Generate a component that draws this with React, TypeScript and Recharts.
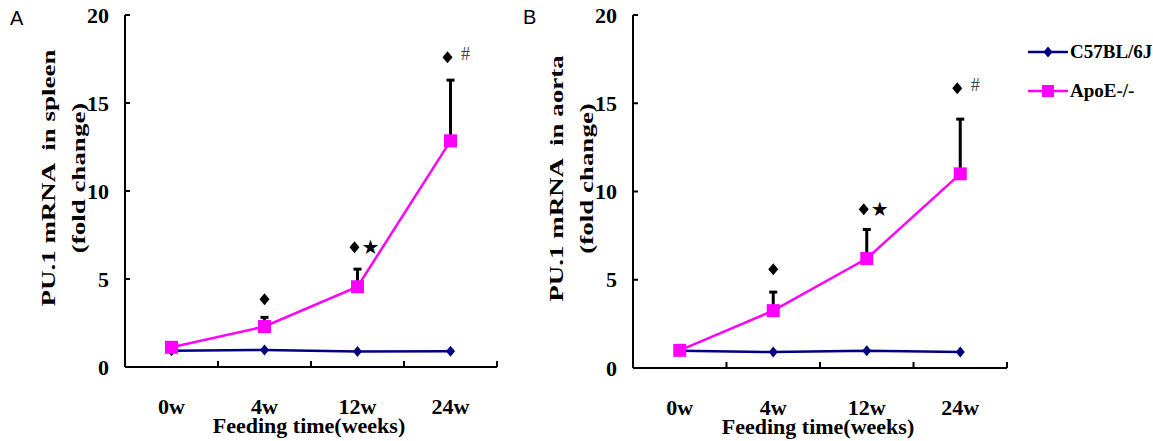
import React from 'react';
import { LineChart, Line, XAxis, YAxis, ErrorBar, LabelList, Legend } from 'recharts';

const weeks = ['0w', '4w', '12w', '24w'];

// panel A: spleen
const spleenC57 = [0.93, 0.97, 0.88, 0.9];
const spleenApoE = [1.12, 2.3, 4.56, 12.85];
const spleenApoESd = [0, 0.52, 1.0, 3.45];
const spleenSigY = [null, 3.85, 6.8, 17.6];

// panel B: aorta
const aortaC57 = [0.98, 0.9, 0.98, 0.9];
const aortaApoE = [1.0, 3.25, 6.2, 11.0];
const aortaApoESd = [0, 1.05, 1.65, 3.1];
const aortaSigY = [null, 5.6, 9.0, 15.85];

const sigMarks = ['', '◆', '◆★', '◆#'];
const yTicks = [0, 5, 10, 15, 20];
const xTicks = [0, 0.5, 1, 1.5, 2, 2.5, 3, 3.5, 4];
const legendOrder = ['c57', 'apoe'];

const serif = '"Liberation Serif", "Times New Roman", serif';
const PINK = '#FF00FF';
const NAVY = '#000080';

function buildRows(c57: number[], apoe: number[], sd: number[], sigY: (number | null)[]) {
  return weeks.map((w, i) => ({
    x: i + 0.5,
    week: w,
    c57: c57[i],
    apoe: apoe[i],
    sd: [0, sd[i]],
    sigY: sigY[i],
    sig: sigMarks[i],
  }));
}

const spleenRows = buildRows(spleenC57, spleenApoE, spleenApoESd, spleenSigY);
const aortaRows = buildRows(aortaC57, aortaApoE, aortaApoESd, aortaSigY);

const diamondPath = (cx: number, cy: number, hw: number, hh: number) =>
  `M${cx},${cy - hh}L${cx + hw},${cy}L${cx},${cy + hh}L${cx - hw},${cy}Z`;

function XTick(props: any) {
  const { x, y, payload } = props;
  const v = payload.value;
  if (Number.isInteger(v)) {
    return <line x1={x} x2={x} y1={y} y2={y - 6} stroke="#000" strokeWidth={2} />;
  }
  return (
    <text x={x} y={y + 39} textAnchor="middle" dominantBaseline="central"
      fontFamily={serif} fontWeight="bold" fontSize={22} fill="#000">
      {weeks[Math.floor(v)]}
    </text>
  );
}

function YTick(props: any) {
  const { x, y, payload } = props;
  return (
    <g>
      <line x1={x} x2={x + 5} y1={y} y2={y} stroke="#000" strokeWidth={2} />
      <text x={x - 16} y={y} textAnchor="end" dominantBaseline="central"
        fontFamily={serif} fontWeight="bold" fontSize={22} fill="#000">
        {payload.value}
      </text>
    </g>
  );
}

// rotated two-line title; the glyph height is squeezed like in the source figure
function YTitle(props: any) {
  const { viewBox, lines } = props;
  if (!viewBox) return null;
  const ax = viewBox.x + (viewBox.width || 0);
  const cy = viewBox.y + viewBox.height / 2 - 13;
  return (
    <g>
      {lines.map((t: string, i: number) => (
        <text key={i} transform={`translate(${ax - 77 + i * 30},${cy}) scale(0.72,1) rotate(-90)`}
          textAnchor="middle" dominantBaseline="central" style={{ whiteSpace: 'pre' }}
          fontFamily={serif} fontWeight="bold" fontSize={27} fill="#000">
          {t}
        </text>
      ))}
    </g>
  );
}

function XTitle(props: any) {
  const { viewBox } = props;
  if (!viewBox) return null;
  return (
    <text x={viewBox.x + viewBox.width / 2 - 2} y={viewBox.y + 58} textAnchor="middle"
      dominantBaseline="central" fontFamily={serif} fontWeight="bold" fontSize={22} fill="#000">
      Feeding time(weeks)
    </text>
  );
}

const SquareDot = (p: any) =>
  p.cx == null ? <g key={p.index} /> :
    <rect key={p.index} x={p.cx - 6.5} y={p.cy - 6.5} width={13} height={13} fill={PINK} />;

const DiamondDot = (p: any) =>
  p.cx == null ? <g key={p.index} /> :
    <path key={p.index} d={diamondPath(p.cx, p.cy, 4.5, 5.5)} fill={NAVY} />;

function SigMark(props: any) {
  const { value } = props;
  const x = props.x ?? props.viewBox?.x;
  const y = props.y ?? props.viewBox?.y;
  if (!value || x == null || y == null) return null;
  const chars = Array.from(value as string);
  const dx = chars.length > 1 ? -3 : 0;
  const extra = chars[1];
  return (
    <g>
      <path d={diamondPath(x + dx, y, 5, 6)} fill="#000" />
      {extra === '★' && (
        <text x={x + 13} y={y} textAnchor="middle" dominantBaseline="central"
          fontFamily='"DejaVu Sans", sans-serif' fontSize={20} fill="#000">★</text>
      )}
      {extra === '#' && (
        <text x={x + 15} y={y - 3} textAnchor="middle" dominantBaseline="central"
          fontFamily={serif} fontSize={18} fill="#444">#</text>
      )}
    </g>
  );
}

function LegendBox(props: any) {
  const payload = (props.payload || []).filter((e: any) => legendOrder.includes(e.dataKey));
  payload.sort((a: any, b: any) => legendOrder.indexOf(a.dataKey) - legendOrder.indexOf(b.dataKey));
  return (
    <div>
      {payload.map((e: any) => (
        <div key={e.value} style={{ display: 'flex', alignItems: 'center', height: 39 }}>
          <svg width={42} height={14}>
            <line x1={0} x2={40} y1={7} y2={7} stroke={e.color} strokeWidth={2.5} />
            {e.dataKey === 'apoe'
              ? <rect x={14} y={1} width={12} height={12} fill={e.color} />
              : <path d={diamondPath(20, 7, 4.5, 5.5)} fill={e.color} />}
          </svg>
          <span style={{ fontFamily: serif, fontWeight: 'bold', fontSize: 19, color: '#000' }}>
            {e.value}
          </span>
        </div>
      ))}
    </div>
  );
}

function Panel({ rows, title, width, margin, legend }: any) {
  return (
    <LineChart width={width} height={441} data={rows} margin={margin}>
      <XAxis dataKey="x" type="number" domain={[0, 4]} ticks={xTicks} interval={0}
        height={1} tickLine={false} tickSize={0} tickMargin={0}
        axisLine={{ stroke: '#000', strokeWidth: 2 }} tick={<XTick />} label={<XTitle />} />
      <YAxis type="number" domain={[0, 20]} ticks={yTicks} interval={0} width={1}
        tickLine={false} tickSize={0} tickMargin={0}
        axisLine={{ stroke: '#000', strokeWidth: 2 }} tick={<YTick />}
        label={<YTitle lines={title} />} />
      {legend && (
        <Legend layout="horizontal" verticalAlign="middle" align="center" content={<LegendBox />}
          wrapperStyle={{ left: 520, top: 32, width: 130, height: 80 }} />
      )}
      <Line name="C57BL/6J" dataKey="c57" type="linear" stroke={NAVY} strokeWidth={2.5}
        dot={DiamondDot} activeDot={false} isAnimationActive={false} />
      <Line name="ApoE-/-" dataKey="apoe" type="linear" stroke={PINK} strokeWidth={2.5}
        dot={SquareDot} activeDot={false} isAnimationActive={false}>
        <ErrorBar dataKey="sd" direction="y" width={4} stroke="#000" strokeWidth={3}
          isAnimationActive={false} />
      </Line>
      <Line dataKey="sigY" stroke="none" dot={false} activeDot={false} legendType="none"
        isAnimationActive={false}>
        <LabelList dataKey="sig" content={<SigMark />} />
      </Line>
    </LineChart>
  );
}

export default function App() {
  return (
    <div style={{ position: 'fixed', left: 0, top: 0, width: 1153, height: 441, background: '#fff' }}>
      <div style={{ position: 'absolute', left: 10, top: 7, fontFamily: '"Liberation Sans", Arial, sans-serif', fontSize: 20 }}>A</div>
      <div style={{ position: 'absolute', left: 523, top: 6, fontFamily: '"Liberation Sans", Arial, sans-serif', fontSize: 20 }}>B</div>
      <div style={{ position: 'absolute', left: 0, top: 0 }}>
        <Panel rows={spleenRows} title={['PU.1 mRNA  in spleen', '(fold change)']} width={560}
          margin={{ top: 15, right: 63, bottom: 73, left: 124 }} />
      </div>
      <div style={{ position: 'absolute', left: 508, top: 0 }}>
        <Panel rows={aortaRows} title={['PU.1 mRNA  in aorta', '(fold change)']} width={645}
          margin={{ top: 15, right: 146, bottom: 72, left: 124 }} legend />
      </div>
    </div>
  );
}
